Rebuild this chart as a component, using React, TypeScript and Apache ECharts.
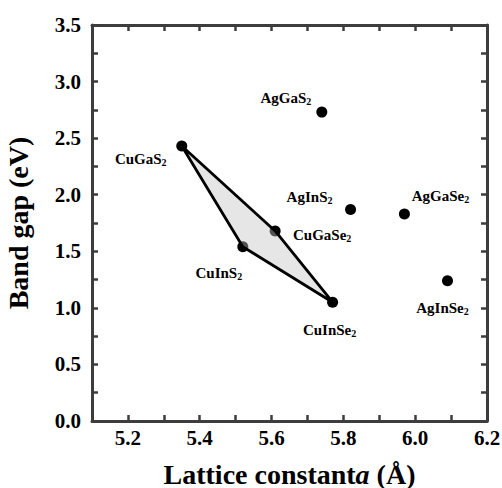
import React, { useEffect, useRef } from "react";
import * as echarts from "echarts";

// Chalcopyrite compounds: lattice constant a (Å) vs band gap (eV)
const compounds = ["CuGaS2", "CuGaSe2", "CuInS2", "CuInSe2", "AgGaS2", "AgInS2", "AgGaSe2", "AgInSe2"];
const latticeA = [5.35, 5.61, 5.52, 5.77, 5.74, 5.82, 5.97, 6.09];
const bandGap = [2.43, 1.68, 1.54, 1.05, 2.73, 1.87, 1.83, 1.24];
// label offsets (px) from each marker centre
const labelOffsets: number[][] = [
  [-41, 13], [47, 4], [-24, 26], [-3, 28], [-36, -14], [-41, -12], [36, -18], [-5, 27],
];
// Cu(In,Ga)(S,Se)2 alloy region, drawn as a polygon through these compounds
const alloyCorners = ["CuGaS2", "CuGaSe2", "CuInSe2", "CuInS2"];

const xTicks = { min: 5.1, max: 6.2, interval: 0.1 };
const yTicks = { min: 0, max: 3.5, interval: 0.25 };

const FONT = "'Liberation Serif', 'Times New Roman', serif";
const AXIS_COLOR = "#3d3d3d";

function subscriptName(name: string) {
  const m = name.match(/^(.*?)(\d+)$/);
  if (!m) return `{b|${name}}`;
  return `{b|${m[1]}}{s|${m[2]}}`;
}

export default function App() {
  const ref = useRef<HTMLDivElement>(null);

  useEffect(() => {
    if (!ref.current) return;
    const chart = echarts.init(ref.current, null, { renderer: "svg" });

    const points = compounds.map((name, i) => ({
      name,
      value: [latticeA[i], bandGap[i]],
      label: {
        show: true,
        position: "inside",
        offset: labelOffsets[i],
        formatter: subscriptName(name),
        rich: {
          b: { fontFamily: FONT, fontWeight: "bold", fontSize: 15, color: "#000" },
          s: { fontFamily: FONT, fontWeight: "bold", fontSize: 10, color: "#000", padding: [7, 0, 0, 0] },
        },
      },
    }));

    const polygonData = alloyCorners.map((n) => {
      const i = compounds.indexOf(n);
      return [latticeA[i], bandGap[i]];
    });

    const xLabel = (v: number) => (Math.round(v * 10) % 2 === 0 ? v.toFixed(1) : "");
    const yLabel = (v: number) => (Math.abs(v * 2 - Math.round(v * 2)) < 1e-6 ? v.toFixed(1) : "");

    const axisLine = { show: true, onZero: false, lineStyle: { color: AXIS_COLOR, width: 3 } };
    const axisTick = { show: true, inside: true, length: 6, lineStyle: { color: AXIS_COLOR, width: 2.5 } };
    const axisLabelStyle = { fontFamily: FONT, fontWeight: "bold", fontSize: 21, color: "#000" };

    chart.setOption({
      animation: false,
      backgroundColor: "#fff",
      grid: { left: 92, right: 15, top: 25, bottom: 67, outerBoundsMode: "none", containLabel: false },
      xAxis: [
        {
          type: "value",
          ...xTicks,
          position: "bottom",
          axisLine,
          axisTick,
          splitLine: { show: false },
          axisLabel: { ...axisLabelStyle, margin: 6, formatter: xLabel },
          name: "{b|Lattice constant}{i|a}{b| (Å)}",
          nameLocation: "middle",
          nameGap: 41,
          nameTextStyle: {
            rich: {
              b: { fontFamily: FONT, fontWeight: "bold", fontSize: 28, lineHeight: 25, color: "#000" },
              i: { fontFamily: FONT, fontWeight: "bold", fontStyle: "italic", fontSize: 28, lineHeight: 25, color: "#000" },
            },
          },
        },
        {
          type: "value",
          ...xTicks,
          position: "top",
          axisLine,
          axisTick,
          splitLine: { show: false },
          axisLabel: { show: false },
        },
      ],
      yAxis: [
        {
          type: "value",
          ...yTicks,
          position: "left",
          axisLine,
          axisTick,
          splitLine: { show: false },
          axisLabel: { ...axisLabelStyle, margin: 11, formatter: yLabel },
          name: "Band gap (eV)",
          nameLocation: "middle",
          nameGap: 60,
          nameTextStyle: { fontFamily: FONT, fontWeight: "bold", fontSize: 28, color: "#000" },
        },
        {
          type: "value",
          ...yTicks,
          position: "right",
          axisLine,
          axisTick,
          splitLine: { show: false },
          axisLabel: { show: false },
        },
      ],
      series: [
        {
          type: "scatter",
          symbol: "circle",
          symbolSize: 11,
          itemStyle: { color: "#000", opacity: 1 },
          data: points,
          z: 2,
        },
        {
          type: "custom",
          z: 3,
          data: [0],
          renderItem: (_params: any, api: any) => ({
            type: "polygon",
            shape: { points: polygonData.map((p) => api.coord(p)) },
            style: { fill: "rgba(195,195,195,0.42)", stroke: "#000", lineWidth: 2.8, lineJoin: "round" },
          }),
        },
      ],
    });

    return () => chart.dispose();
  }, []);

  return <div ref={ref} style={{ width: 502, height: 488, position: "absolute", left: 0, top: 0 }} />;
}
